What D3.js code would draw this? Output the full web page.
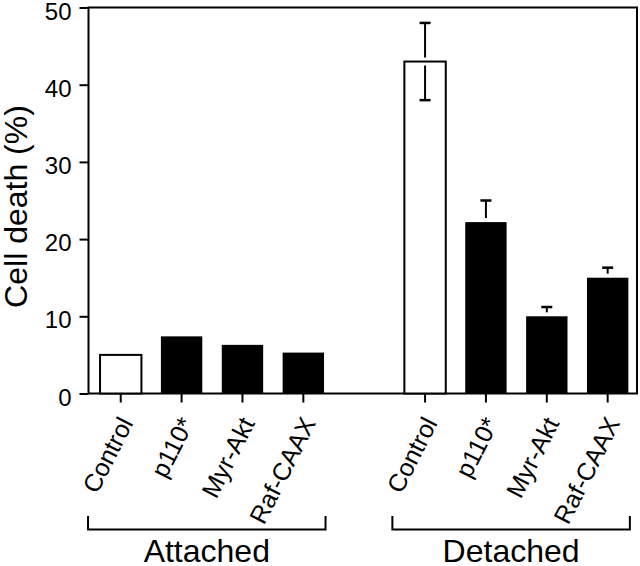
<!DOCTYPE html>
<html>
<head>
<meta charset="utf-8">
<script src="https://cdn.jsdelivr.net/npm/d3@7"></script>
<style>
  html, body { margin: 0; padding: 0; background: #fff; }
  svg { display: block; font-family: "Liberation Sans", Arial, Helvetica, sans-serif; }
</style>
</head>
<body>
<svg id="chart" width="640" height="566"></svg>
<script>
// ---- data ----
const categories = ["Control", "p110*", "Myr-Akt", "Raf-CAAX"];
const groups = ["Attached", "Detached"];
const attachedValues = [5.0, 7.4, 6.3, 5.3];
const attachedErrors = [0, 0, 0, 0];
const detachedValues = [43.0, 22.2, 10.0, 15.0];
const detachedErrors = [5.0, 2.8, 1.2, 1.3];
const yTicks = [0, 10, 20, 30, 40, 50];
const yLabel = "Cell death (%)";

(function () {
const seriesValues = [attachedValues, detachedValues];
const seriesErrors = [attachedErrors, detachedErrors];

const records = [];
groups.forEach((g, gi) => {
  categories.forEach((c, ci) => {
    records.push({ key: g + "|" + c, group: g, cat: c, value: seriesValues[gi][ci], err: seriesErrors[gi][ci], open: ci === 0 });
  });
});
const slotKeys = [];
groups.forEach((g, gi) => {
  categories.forEach(c => slotKeys.push(g + "|" + c));
  if (gi < groups.length - 1) slotKeys.push("gap" + gi);
});

const svg = d3.select("#chart");
const pLeft = 88.5, pRight = 637, pTop = 7.5, pBottom = 393.5;

const y = d3.scaleLinear().domain([0, 50]).range([pBottom, pTop]);
const x = d3.scaleBand().domain(slotKeys).range([90.3, 638.1]).paddingInner(0.32).paddingOuter(0.16);
const bw = x.bandwidth();

// frame
svg.append("rect")
  .attr("x", pLeft).attr("y", pTop)
  .attr("width", pRight - pLeft).attr("height", pBottom - pTop)
  .attr("fill", "none").attr("stroke", "#000").attr("stroke-width", 2);

// y axis
const yAxis = svg.append("g")
  .attr("transform", `translate(${pLeft},0)`)
  .call(d3.axisLeft(y).tickValues(yTicks).tickSize(9).tickPadding(8).tickFormat(d3.format("d")));
yAxis.select(".domain").remove();
yAxis.selectAll(".tick line").attr("stroke", "#000").attr("stroke-width", 2);
yAxis.selectAll(".tick text")
  .attr("font-size", 24).attr("fill", "#000").attr("dy", "0.48em")
  .attr("font-family", "'Liberation Sans', Arial, sans-serif");

// x axis ticks
const xAxis = svg.append("g")
  .attr("transform", `translate(0,${pBottom})`)
  .call(d3.axisBottom(x).tickValues(records.map(r => r.key)).tickSize(9).tickFormat(() => ""));
xAxis.select(".domain").remove();
xAxis.selectAll(".tick line").attr("stroke", "#000").attr("stroke-width", 2);

// bars
svg.append("g").selectAll("rect")
  .data(records)
  .join("rect")
  .attr("x", d => x(d.key))
  .attr("y", d => y(d.value))
  .attr("width", bw)
  .attr("height", d => y(0) - y(d.value))
  .attr("fill", d => d.open ? "#fff" : "#000")
  .attr("stroke", "#000")
  .attr("stroke-width", d => d.open ? 2 : 0);

// error bars
const gap = 4;
const eb = svg.append("g").selectAll("g")
  .data(records.filter(d => d.err > 0))
  .join("g")
  .attr("stroke", "#000");
eb.append("line")
  .attr("x1", d => x(d.key) + bw / 2).attr("x2", d => x(d.key) + bw / 2)
  .attr("y1", d => y(d.value + d.err)).attr("y2", d => y(d.value) - gap)
  .attr("stroke-width", 2);
eb.append("line")
  .attr("x1", d => x(d.key) + bw / 2 - 5.5).attr("x2", d => x(d.key) + bw / 2 + 5.5)
  .attr("y1", d => y(d.value + d.err)).attr("y2", d => y(d.value + d.err))
  .attr("stroke-width", 2.5);
eb.filter(d => d.open).append("line")
  .attr("x1", d => x(d.key) + bw / 2).attr("x2", d => x(d.key) + bw / 2)
  .attr("y1", d => y(d.value) + gap).attr("y2", d => y(d.value - d.err))
  .attr("stroke-width", 2);
eb.filter(d => d.open).append("line")
  .attr("x1", d => x(d.key) + bw / 2 - 5.5).attr("x2", d => x(d.key) + bw / 2 + 5.5)
  .attr("y1", d => y(d.value - d.err)).attr("y2", d => y(d.value - d.err))
  .attr("stroke-width", 2.5);

// category labels
svg.append("g").selectAll("text")
  .data(records)
  .join("text")
  .attr("transform", d => `translate(${x(d.key) + bw / 2 + 13},423) rotate(-63)`)
  .attr("text-anchor", "end")
  .attr("font-size", 25)
  .attr("fill", "#000")
  .text(d => d.cat);

// group brackets + labels
groups.forEach(g => {
  const keys = records.filter(r => r.group === g).map(r => r.key);
  const x0 = x(keys[0]) - 12;
  const x1 = x(keys[keys.length - 1]) + bw + 1.5;
  svg.append("path")
    .attr("d", `M${x0},516V529.5H${x1}V516`)
    .attr("fill", "none").attr("stroke", "#000").attr("stroke-width", 2);
  svg.append("text")
    .attr("x", (x0 + x1) / 2).attr("y", 562)
    .attr("text-anchor", "middle")
    .attr("font-size", 32)
    .attr("fill", "#000")
    .text(g);
});

// y label
svg.append("text")
  .attr("transform", `translate(27,206.5) rotate(-90)`)
  .attr("text-anchor", "middle")
  .attr("font-size", 32)
  .attr("fill", "#000")
  .text(yLabel);
})();
</script>
</body>
</html>
